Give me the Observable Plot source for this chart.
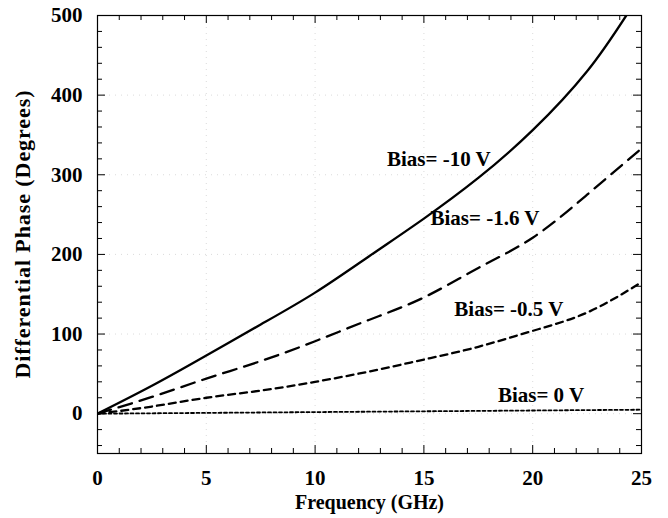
<!DOCTYPE html>
<html><head><meta charset="utf-8">
<script src="https://cdn.jsdelivr.net/npm/d3@7"></script>
<script src="https://cdn.jsdelivr.net/npm/@observablehq/plot@0.6"></script>
<style>body{margin:0;background:#fff}</style>
</head><body><div id="chart"></div>
<script>
// Data
const freqs   = [0, 2.5, 5, 7.5, 10, 12.5, 15, 17.5, 20, 22.5, 25];
const freq10  = [0, 2.5, 5, 7.5, 10, 12.5, 15, 17.5, 20, 22.5, 24.3];
const bias10  = [0, 35, 73, 112, 152, 198, 245, 296, 356, 430, 500];
const bias16  = [0, 21, 44, 66, 91, 118, 146, 183, 221, 275, 333];
const bias05  = [0, 9, 20, 29, 40, 53, 68, 84, 104, 127, 165];
const bias0   = [0, 0.5, 1, 1.5, 2, 2.5, 3, 3.5, 4, 4.5, 5];
const labels  = [
  {text: "Bias= -10 V",  x: 13.3, y: 320},
  {text: "Bias= -1.6 V", x: 15.3, y: 246},
  {text: "Bias= -0.5 V", x: 16.4, y: 131},
  {text: "Bias= 0 V",    x: 18.4, y: 23}
];
const xTickLabels = [0, 5, 10, 15, 20, 25];
const yTickLabels = [0, 100, 200, 300, 400, 500];
const xTitle = "Frequency (GHz)";
const yTitle = "Differential Phase (Degrees)";
const xMinor = d3.range(0, 26).filter(v => v % 5 !== 0);
const yMinor = d3.range(-40, 500, 20).filter(v => v % 100 !== 0);

const W = 668, H = 518, mL = 97, mR = 27, mT = 15, mB = 65;
const fw = W - mL - mR, fh = H - mT - mB;

const series = (xs, ys) => xs.map((x, i) => ({x, y: ys[i]}));
const ink = "#000";

const chart = Plot.plot({
  width: W, height: H,
  marginLeft: mL, marginRight: mR, marginTop: mT, marginBottom: mB,
  style: {fontFamily: "'Liberation Serif', 'Times New Roman', serif", fontWeight: "bold", fontSize: "21px", background: "#fff", color: ink},
  x: {domain: [0, 25]},
  y: {domain: [-50, 500]},
  marks: [
    // faint dotted grid
    Plot.ruleX(xTickLabels.slice(1, -1), {stroke: "#999", strokeOpacity: 0.35, strokeDasharray: "1,5"}),
    Plot.ruleY(yTickLabels.slice(0, -1), {stroke: "#999", strokeOpacity: 0.35, strokeDasharray: "1,5"}),
    // inward ticks on all four sides
    Plot.ruleX(xMinor, {insetTop: fh - 5, stroke: ink}),
    Plot.ruleX(xTickLabels, {insetTop: fh - 8, stroke: ink}),
    Plot.ruleX(xMinor, {insetBottom: fh - 5, stroke: ink}),
    Plot.ruleX(xTickLabels, {insetBottom: fh - 8, stroke: ink}),
    Plot.ruleY(yMinor, {insetRight: fw - 5, stroke: ink}),
    Plot.ruleY(yTickLabels, {insetRight: fw - 8, stroke: ink}),
    Plot.ruleY(yMinor, {insetLeft: fw - 5, stroke: ink}),
    Plot.ruleY(yTickLabels, {insetLeft: fw - 8, stroke: ink}),
    Plot.frame({stroke: ink, strokeWidth: 1.2}),
    // curves
    Plot.line(series(freq10, bias10), {x: "x", y: "y", stroke: ink, strokeWidth: 2.3, curve: "natural", clip: true}),
    Plot.line(series(freqs, bias16), {x: "x", y: "y", stroke: ink, strokeWidth: 2.3, strokeDasharray: "14,8", curve: "natural", clip: true}),
    Plot.line(series(freqs, bias05), {x: "x", y: "y", stroke: ink, strokeWidth: 2.3, strokeDasharray: "7,5", curve: "natural", clip: true}),
    Plot.line(series(freqs, bias0), {x: "x", y: "y", stroke: ink, strokeWidth: 1.8, strokeDasharray: "3,2.5", clip: true}),
    // curve labels
    Plot.text(labels, {x: "x", y: "y", text: "text", textAnchor: "start", fontSize: 21, fill: ink}),
    // axes
    Plot.axisX(xTickLabels, {tickSize: 0, tickPadding: 17, fontSize: 21, label: null}),
    Plot.axisY(yTickLabels, {tickSize: 0, tickPadding: 15, fontSize: 21, label: null}),
    Plot.text([xTitle], {frameAnchor: "bottom", dy: 55, fontSize: 20, fill: ink}),
    Plot.text([yTitle], {frameAnchor: "left", textAnchor: "middle", dx: -75, rotate: -90, fontSize: 22, fill: ink})
  ]
});
// stretch the y title to the length seen in the reference
d3.select(chart).selectAll("text").filter(function() { return this.textContent === yTitle; })
  .attr("textLength", 288).attr("lengthAdjust", "spacing");
document.getElementById("chart").appendChild(chart);
</script>
</body></html>
